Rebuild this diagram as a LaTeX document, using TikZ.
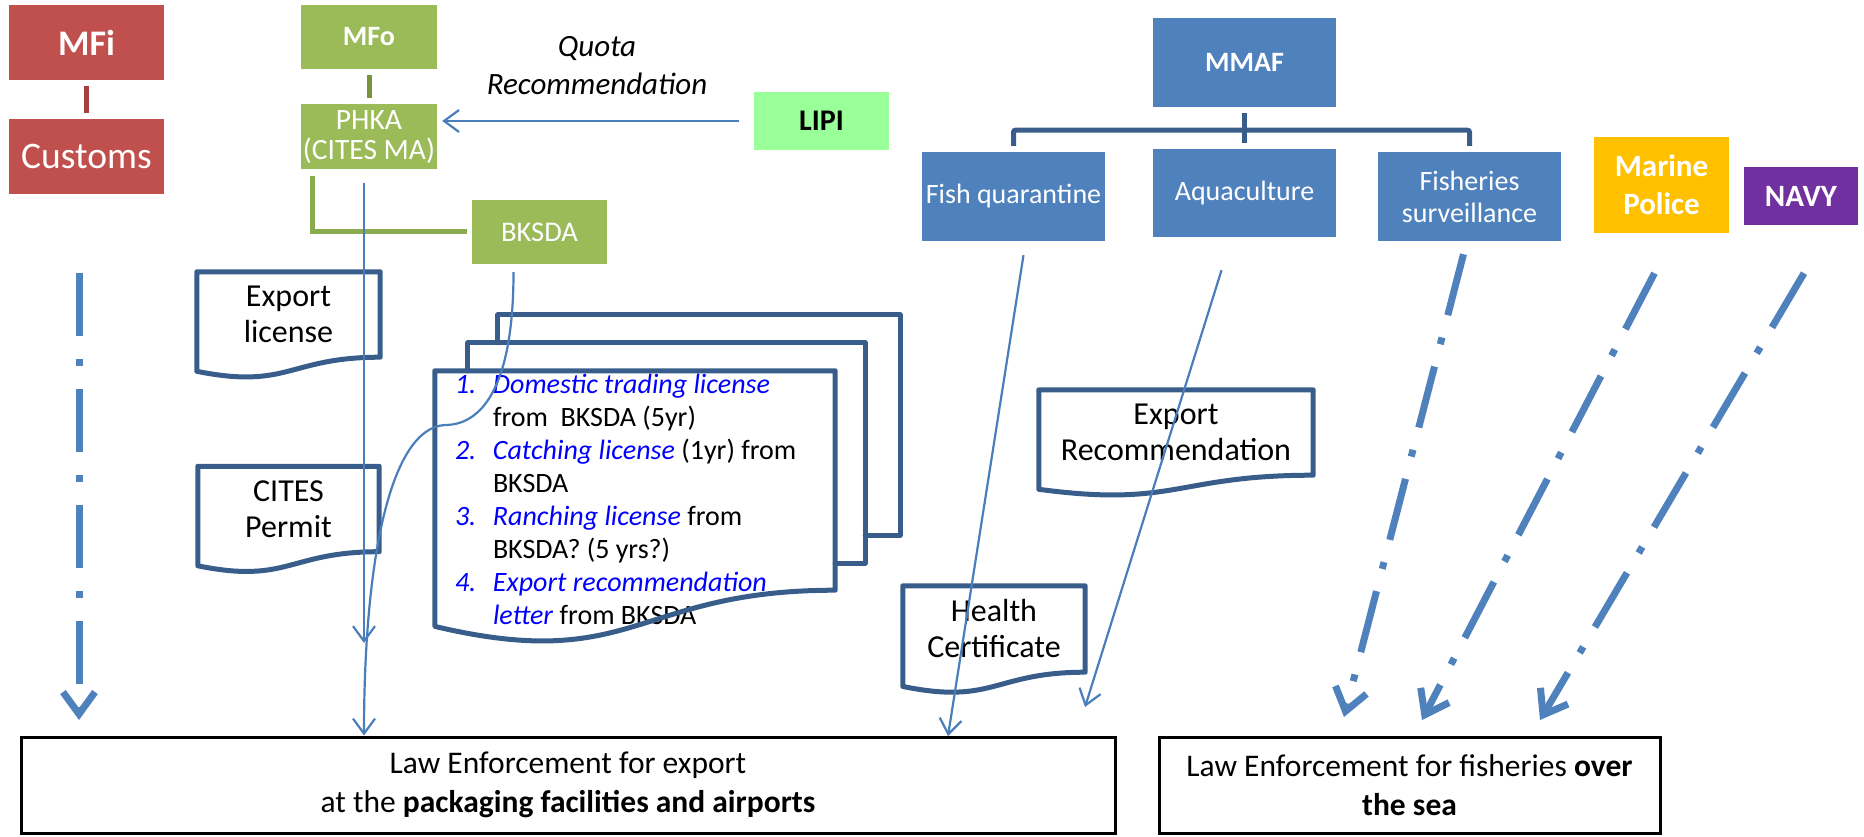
\documentclass[tikz,border=0pt]{standalone}
\usepackage{fontspec}
\setmainfont{Carlito}
\usepackage{tikz}
\usetikzlibrary{positioning,arrows.meta,calc}
\definecolor{rojo}{HTML}{C0504D}
\definecolor{rojolinea}{HTML}{A5403D}
\definecolor{verde}{HTML}{9BBB59}
\definecolor{verdeoscuro}{HTML}{77933C}
\definecolor{verdelinea}{HTML}{8BAB50}
\definecolor{verdeclaro}{HTML}{99FF99}
\definecolor{azul}{HTML}{4F81BD}
\definecolor{azulborde}{HTML}{385D8A}
\definecolor{azulflecha}{HTML}{4A7EBB}
\definecolor{naranja}{HTML}{FFC000}
\definecolor{morado}{HTML}{7030A0}
\definecolor{azultexto}{HTML}{0000FF}
\newcommand{\hoja}[1]{%
  \draw[contorno] let \p1=(#1.north west), \p2=(#1.south east) in
    (\p1) -- (\x2,\y1) -- (\p2)
    .. controls ({0.5*\x1+0.5*\x2},\y2) and ({0.5*\x1+0.5*\x2},{\y2-0.381*(\y1-(\y2))})
    .. (\x1,{\y2-0.165*(\y1-(\y2))}) -- cycle;}
\newcommand{\punto}[2]{\textcolor{azultexto}{\makebox[38pt][l]{\textit{#1}}\textit{#2}}}

\begin{document}
\begin{tikzpicture}[
  x=1pt, y=-1pt,
  caja/.style={rectangle, inner sep=0pt, text=white, align=center},
  cajaroja/.style={caja, fill=rojo, minimum width=155pt, minimum height=75pt, font=\fontsize{37.5}{42}\selectfont},
  cajaverde/.style={caja, fill=verde, minimum width=136pt, minimum height=64pt, font=\fontsize{29.5}{30}\selectfont},
  cajaazul/.style={caja, fill=azul, minimum width=183pt, minimum height=89pt, font=\fontsize{28}{32}\selectfont},
  cajacolor/.style={caja, minimum width=135pt, font=\fontsize{31}{38}\selectfont\bfseries},
  hojadoc/.style={rectangle, inner sep=0pt, align=center, minimum height=85pt, font=\fontsize{32}{36}\selectfont},
  contorno/.style={draw=azulborde, line width=5pt, line join=round, line cap=round},
  ley/.style={rectangle, draw=black, line width=3pt, fill=white, minimum height=96pt, inner sep=0pt, align=center, font=\fontsize{31.5}{39}\selectfont},
  enlace/.style={line width=5pt, shorten <=6pt, shorten >=6pt},
  rama/.style={draw=azulborde, line width=5pt, rounded corners=2pt},
  flecha/.style={-{Straight Barb[length=15pt,width=22pt]}, draw=azulflecha, line width=2.2pt},
  vigilancia/.style={-{Straight Barb[length=22pt,width=32pt]}, draw=azul, line width=7pt, dash pattern=on 63pt off 23pt on 7pt off 23pt}
]
\useasboundingbox (0,0) rectangle (1864,837);
\node[cajaroja, font=\fontsize{36}{40}\selectfont\bfseries] (mfi) at (86.5,42.5) {MFi};
\node[cajaroja, below=39pt of mfi] (customs) {Customs};
\node[cajaverde, font=\fontsize{28}{30}\selectfont\bfseries] (mfo) at (369,37) {MFo};
\node[cajaverde, minimum height=65pt, below=35pt of mfo] (phka) {PHKA\\(CITES MA)};
\node[cajaverde, minimum width=135pt, font=\fontsize{28.5}{30}\selectfont] (bksda) at (539.5,232) {BKSDA};
\node[cajacolor, fill=verdeclaro, text=black, minimum height=58pt, font=\fontsize{30}{36}\selectfont\bfseries] (lipi) at (821.5,121) {LIPI};
\node[font=\fontsize{31}{38}\selectfont\itshape, align=center] (cuota) at (597,66) {Quota\\Recommendation};
\node[cajaazul, font=\fontsize{28}{32}\selectfont\bfseries] (mmaf) at (1244.5,62.5) {MMAF};
\node[cajaazul] (fishq) at (1013.5,196.5) {Fish quarantine};
\node[cajaazul, minimum height=88pt] (aqua) at (1244.5,193) {Aquaculture};
\node[cajaazul] (fishsurv) at (1469.5,196.5) {Fisheries\\surveillance};
\node[cajacolor, fill=naranja, minimum height=96pt] (policia) at (1661.5,185) {Marine\\Police};
\node[cajacolor, fill=morado, minimum width=114pt, minimum height=58pt] (navy) at (1801,196) {NAVY};
\node[hojadoc, minimum width=183pt] (licencia) at (288.5,314.5) {Export\\license};
\node[hojadoc, minimum width=181pt] (cites) at (288.5,509) {CITES\\Permit};
\node[hojadoc, minimum width=274pt] (recom) at (1176,432.5) {Export\\Recommendation};
\node[hojadoc, minimum width=182pt, minimum height=86pt] (salud) at (994,629) {Health\\Certificate};
\node[hojadoc, minimum width=400pt, minimum height=219pt] (lista) at (635,480.5) {};
\node[anchor=north west, align=left, inner sep=3pt, font=\fontsize{28}{33}\selectfont] (licencias) at ([xshift=17pt]lista.north west) {\punto{1.}{Domestic trading license}\\
\hspace*{38pt}from\ \ BKSDA (5yr)\\
\punto{2.}{Catching license} (1yr) from\\
\hspace*{38pt}BKSDA\\
\punto{3.}{Ranching license} from\\
\hspace*{38pt}BKSDA? (5 yrs?)\\
\punto{4.}{Export recommendation}\\
\hspace*{38pt}\textcolor{azultexto}{\textit{letter}} from BKSDA};
\node[ley, minimum width=1094pt] (leyexp) at (568,785) {Law Enforcement for export\\at the \textbf{packaging facilities and airports}};
\node[ley, minimum width=501pt] (leymar) at (1409.5,785) {Law Enforcement for fisheries \textbf{over}\\\textbf{the sea}};
\coordinate (puntaphka) at (364,643);
\coordinate (quiebre) at (445,425);
\coordinate (puntafish) at (948,736);
\coordinate (puntaaqua) at (1085,707);
\coordinate (puntacust) at (79,720);
\coordinate (puntavig) at (1344,717);
\coordinate (puntapol) at (1422,720);
\coordinate (puntanavy) at (1540,720);
\draw[contorno] ([xshift=63pt,yshift=28pt]lista.north west) -- ++(0,-28) -| ([xshift=65pt,yshift=55pt]lista.south east) -- ([xshift=30pt,yshift=55pt]lista.south east);
\draw[contorno] ([xshift=33pt]lista.north west) -- ++(0,-28) -| ([xshift=30pt,yshift=27pt]lista.south east) -- ([yshift=27pt]lista.south east);
\hoja{lista}
\hoja{licencia}
\hoja{cites}
\hoja{recom}
\hoja{salud}
\draw[enlace, draw=rojolinea] (mfi) -- (customs);
\draw[enlace, draw=verdeoscuro] (mfo) -- (phka);
\draw[draw=verdelinea, line width=5pt] ([xshift=12pt,yshift=-6pt]phka.south west) |- ([xshift=-5pt]bksda.west);
\draw[rama] ([yshift=-6pt]mmaf.south) -- ([yshift=6pt]aqua.north);
\draw[rama] ([yshift=6pt]fishq.north) |- ([yshift=-23pt]mmaf.south) -| ([yshift=6pt]fishsurv.north);
\draw[flecha, shorten <=15pt, shorten >=5pt] (lipi.west) -- (lipi.west -| phka.east);
\draw[flecha] ([xshift=-5pt,yshift=-13pt]phka.south) -- (puntaphka);
\draw[flecha] ([xshift=-26pt,yshift=-8pt]bksda.south) .. controls +(0,118) and +(35,0) .. (quiebre) .. controls +(-55,3) and +(0,-175) .. (puntaphka |- leyexp.north);
\draw[flecha] ([xshift=10pt,yshift=-14pt]fishq.south) -- (puntafish);
\draw[flecha] ([xshift=-23pt,yshift=-33pt]aqua.south) -- (puntaaqua);
\draw[vigilancia] ([xshift=-7.5pt,yshift=-78pt]customs.south) -- (puntacust);
\draw[vigilancia] ([xshift=-6pt,yshift=-13pt]fishsurv.south) -- (puntavig);
\draw[vigilancia] ([xshift=-7pt,yshift=-40pt]policia.south) -- (puntapol);
\draw[vigilancia] ([xshift=3pt,yshift=-48pt]navy.south) -- (puntanavy);
\end{tikzpicture}
\end{document}
